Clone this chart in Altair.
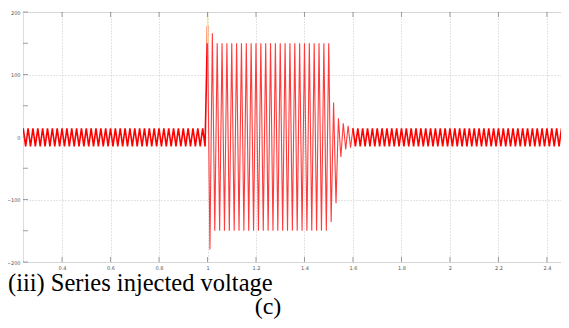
import altair as alt
import numpy as np
import pandas as pd

# Sampling grid: one sample per half cycle (50 Hz) starting at t = 0.24 s
T_START = 0.24
HALF_PERIOD = 0.01

# Peak / trough values (V)
prefault_peaks = [
    14, -15, 14, -15, 14, -15, 14, -15, 14, -15, 14, -15, 14, -15, 14, -15,
    14, -15, 14, -15, 14, -15, 14, -15, 14, -15, 14, -15, 14, -15, 14, -15,
    14, -15, 14, -15, 14, -15, 14, -15, 14, -15, 14, -15, 14, -15, 14, -15,
    14, -15, 14, -15, 14, -15, 14, -15, 14, -15, 14, -15, 14, -15, 14, -15,
    14, -15, 14, -15, 14, -15, 14, -15, 14, -15, 14, -15,
]
fault_peaks = [
    178, -180, 166, -150, 150, -150, 150, -150, 150, -150, 150, -150, 150,
    -150, 150, -150, 150, -150, 150, -150, 150, -150, 150, -150, 150, -150,
    150, -150, 150, -150, 150, -150, 150, -150, 150, -150, 150, -150, 150,
    -150, 150, -150, 150, -150, 150, -150, 150, -150, 150, -150, 150,
]
recovery_peaks = [-136, 55, -106, 30, -32, 22, -20, 18, -17]
steady_peaks = [
    14, -15, 14, -15, 14, -15, 14, -15, 14, -15, 14, -15, 14, -15, 14, -15,
    14, -15, 14, -15, 14, -15, 14, -15, 14, -15, 14, -15, 14, -15, 14, -15,
    14, -15, 14, -15, 14, -15, 14, -15, 14, -15, 14, -15, 14, -15, 14, -15,
    14, -15, 14, -15, 14, -15, 14, -15, 14, -15, 14, -15, 14, -15, 14, -15,
    14, -15, 14, -15, 14, -15, 14, -15, 14, -15, 14, -15, 14, -15, 14, -15,
    14, -15, 14, -15, 14, -15, 14, -15, 14, -15, 14,
]
spike_t = [0.999, 1.0, 1.001]
spike_v = [150, 198, 150]

x_ticks = [0.4, 0.6, 0.8, 1.0, 1.2, 1.4, 1.6, 1.8, 2.0, 2.2, 2.4]
y_ticks = [-200, -150, -100, -50, 0, 50, 100, 150, 200]

values = prefault_peaks + fault_peaks + recovery_peaks + steady_peaks
times = np.round(T_START + HALF_PERIOD * np.arange(len(values)), 3)
n_pre = len(prefault_peaks)
n_fault = len(fault_peaks) + len(recovery_peaks)
wave = pd.DataFrame({"t": times, "v": values})
pre = wave.iloc[: n_pre + 1]
fault = wave.iloc[n_pre: n_pre + n_fault + 1]
post = wave.iloc[n_pre + n_fault:]
spike = pd.DataFrame({"t": spike_t, "v": spike_v})
xt = pd.DataFrame({"t": x_ticks})
yt = pd.DataFrame({"v": y_ticks})

W, H = 538, 250
xscale = alt.Scale(domain=[0.239, 2.458], nice=False, zero=False)
yscale = alt.Scale(domain=[-200, 200], nice=False)

label_font = "DejaVu Sans"
x_axis = alt.Axis(
    values=x_ticks, format="~g", grid=True, gridColor="#c8c8c8",
    gridDash=[1, 2], gridWidth=1, ticks=False, domain=False,
    labelFontSize=5, labelColor="#555555", labelPadding=3,
    labelFont=label_font, title=None,
)
y_axis = alt.Axis(
    values=y_ticks, grid=True, gridColor="#c8c8c8", gridDash=[1, 2],
    gridWidth=1, ticks=False, domain=False, labelFontSize=5,
    labelColor="#555555", labelPadding=3, labelFont=label_font, title=None,
)

base = alt.Chart(pre).mark_line(color="#ff0000", strokeWidth=1.6, clip=True).encode(
    x=alt.X("t:Q", scale=xscale, axis=x_axis),
    y=alt.Y("v:Q", scale=yscale, axis=y_axis),
)
fault_line = alt.Chart(fault).mark_line(color="#ff3b3b", strokeWidth=1.1, clip=True).encode(
    x=alt.X("t:Q", scale=xscale),
    y=alt.Y("v:Q", scale=yscale),
)
post_line = alt.Chart(post).mark_line(color="#ff0000", strokeWidth=1.6, clip=True).encode(
    x=alt.X("t:Q", scale=xscale),
    y=alt.Y("v:Q", scale=yscale),
)

spike_line = alt.Chart(spike).mark_line(color="#ffee66", strokeWidth=1.2, clip=True).encode(
    x=alt.X("t:Q", scale=xscale),
    y=alt.Y("v:Q", scale=yscale),
)

tick_bottom = alt.Chart(xt).mark_tick(color="#777777", size=5, thickness=1).encode(
    x=alt.X("t:Q", scale=xscale), y=alt.value(H - 2.5)
)
tick_top = alt.Chart(xt).mark_tick(color="#777777", size=5, thickness=1).encode(
    x=alt.X("t:Q", scale=xscale), y=alt.value(2.5)
)
tick_left = alt.Chart(yt).mark_tick(
    color="#777777", size=5, thickness=1, orient="horizontal"
).encode(y=alt.Y("v:Q", scale=yscale), x=alt.value(2.5))

caption = alt.Chart(pd.DataFrame({"s": ["(iii) Series injected voltage"]})).mark_text(
    font="Liberation Serif", fontSize=24.5, align="left", baseline="alphabetic",
    color="#000000", clip=False,
).encode(text="s:N", x=alt.value(-15), y=alt.value(279))

sub = alt.Chart(pd.DataFrame({"s": ["(c)"]})).mark_text(
    font="Liberation Serif", fontSize=24, align="center", baseline="alphabetic",
    color="#000000", clip=False,
).encode(text="s:N", x=alt.value(245), y=alt.value(302))

chart = alt.layer(
    base, fault_line, post_line, spike_line, tick_bottom, tick_top, tick_left,
    caption, sub
).properties(
    width=W, height=H,
    autosize=alt.AutoSizeParams(type="none"),
    padding={"left": 15, "top": 4, "right": 0, "bottom": 58},
).configure_view(
    stroke="#8a8a8a", strokeWidth=1.5
).configure(background="white")

chart.save("out.html", embed_options={"renderer": "svg", "actions": False})
